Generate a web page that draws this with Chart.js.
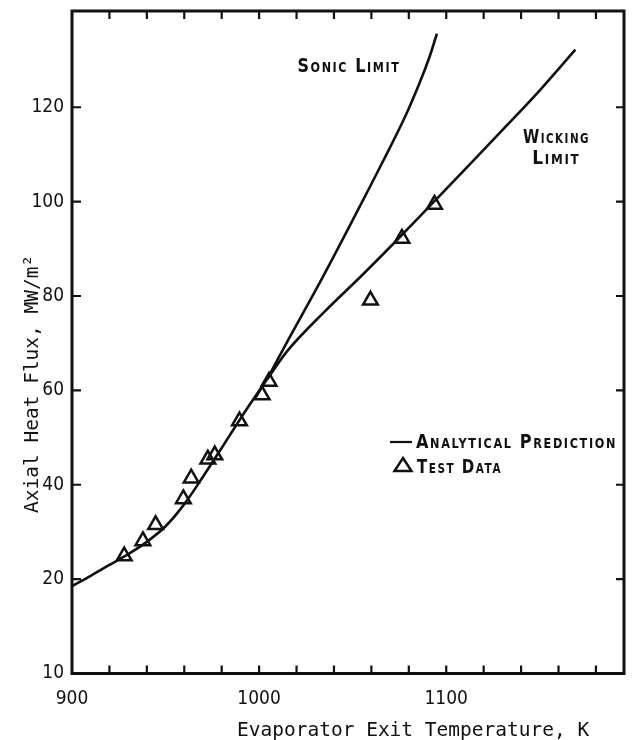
<!DOCTYPE html>
<html>
<head>
<meta charset="utf-8">
<script src="https://cdn.jsdelivr.net/npm/chart.js@4/dist/chart.umd.min.js"></script>
<style>
html,body{margin:0;padding:0;background:#fff;}
#wrap{width:635px;height:740px;position:relative;}
</style>
</head>
<body>
<div id="wrap"><canvas id="c" width="635" height="740"></canvas></div>
<script>
// ---- data ----
const xTickValues = [900, 1000, 1100];
const xTickLabels = ['900', '1000', '1100'];
const yTickValues = [0, 20, 40, 60, 80, 100, 120];
const yTickLabels = ['10', '20', '40', '60', '80', '100', '120'];

// shared part of the analytical prediction (below the split)
const sharedTemp = [900, 910, 920, 930, 940, 950, 960, 970, 980, 990, 1000, 1004];
const sharedFlux = [18.5, 20.7, 23.0, 25.3, 27.9, 31.2, 35.9, 41.7, 47.8, 54.0, 59.9, 62.2];

// sonic limit branch
const sonicTemp = [1004, 1016, 1034, 1052, 1066, 1078, 1086, 1091, 1095];
const sonicFlux = [62.2, 71.0, 84.0, 97.6, 108.4, 118.0, 125.4, 130.6, 135.6];

// wicking limit branch
const wickTemp = [1004, 1016, 1035, 1055, 1075, 1094, 1115, 1132, 1150, 1169];
const wickFlux = [62.2, 68.8, 76.7, 84.4, 92.4, 100.2, 108.9, 116.0, 123.6, 132.2];

// test data
const testTemp = [927.9, 937.9, 944.7, 959.5, 963.7, 972.6, 976.3, 989.5, 1001.6, 1005.3, 1059.5, 1076.3, 1093.7];
const testFlux = [24.9, 28.1, 31.5, 37.0, 41.4, 45.4, 46.3, 53.5, 59.0, 61.9, 79.1, 92.2, 99.4];

const labels = {
  sonic: 'Sonic Limit',
  wick1: 'Wicking',
  wick2: 'Limit',
  legLine: 'Analytical Prediction',
  legData: 'Test Data',
  xTitle: 'Evaporator Exit Temperature, K',
  yTitle: 'Axial Heat Flux, MW/m\u00B2'
};

const pts = (xs, ys) => xs.map((x, i) => ({x: x, y: ys[i]}));
const INK = '#111';
const TICK_FONT = '"DejaVu Sans Condensed", "Liberation Sans Narrow", "DejaVu Sans"';

function capsText(ctx, text, left, baseline, targetW) {
  ctx.save();
  ctx.font = 'small-caps bold 20px "DejaVu Sans"';
  try { ctx.letterSpacing = '2px'; } catch (e) {}
  const w = ctx.measureText(text).width;
  ctx.translate(left, baseline);
  ctx.scale(targetW / w, 1);
  ctx.fillStyle = INK;
  ctx.textAlign = 'left';
  ctx.textBaseline = 'alphabetic';
  ctx.fillText(text, 0, 0);
  ctx.restore();
}

const decor = {
  id: 'decor',
  afterDatasetsDraw(chart) {
    const ctx = chart.ctx;
    const a = chart.chartArea;
    const xs = chart.scales.x, ys = chart.scales.y;
    ctx.save();
    ctx.strokeStyle = INK;
    ctx.lineCap = 'butt';
    // frame
    ctx.lineWidth = 3;
    ctx.strokeRect(a.left, a.top, a.right - a.left, a.bottom - a.top);
    // x minor ticks (inward, top and bottom)
    ctx.lineWidth = 2.2;
    for (let v = xs.min + 20; v < xs.max; v += 20) {
      const px = xs.getPixelForValue(v);
      ctx.beginPath();
      ctx.moveTo(px, a.bottom); ctx.lineTo(px, a.bottom - 8);
      ctx.moveTo(px, a.top); ctx.lineTo(px, a.top + 8);
      ctx.stroke();
    }
    // y ticks (inward, left and right)
    yTickValues.forEach(v => {
      if (v === ys.min) return;
      const py = ys.getPixelForValue(v);
      ctx.beginPath();
      ctx.moveTo(a.left, py); ctx.lineTo(a.left + 9, py);
      ctx.moveTo(a.right, py); ctx.lineTo(a.right - 8, py);
      ctx.stroke();
    });
    // annotations
    capsText(ctx, labels.sonic, xs.getPixelForValue(1020.5), ys.getPixelForValue(127.4), 103);
    capsText(ctx, labels.wick1, xs.getPixelForValue(1141), ys.getPixelForValue(112.5), 67);
    capsText(ctx, labels.wick2, xs.getPixelForValue(1146), ys.getPixelForValue(108), 48);
    // legend
    const lx = 390, ly = 442;
    ctx.lineWidth = 2.2;
    ctx.beginPath(); ctx.moveTo(lx, ly); ctx.lineTo(lx + 22, ly); ctx.stroke();
    capsText(ctx, labels.legLine, 416, 448, 201);
    ctx.lineWidth = 2.5;
    ctx.lineJoin = 'miter';
    ctx.beginPath();
    ctx.moveTo(403, 458); ctx.lineTo(411.5, 471); ctx.lineTo(394.5, 471); ctx.closePath();
    ctx.stroke();
    capsText(ctx, labels.legData, 417, 473, 85);
    // axis titles
    ctx.fillStyle = INK;
    ctx.font = '19.5px "DejaVu Sans Mono"';
    ctx.textAlign = 'left';
    ctx.textBaseline = 'alphabetic';
    ctx.fillText(labels.xTitle, 237, 736);
    ctx.save();
    ctx.translate(38, 513);
    ctx.rotate(-Math.PI / 2);
    ctx.fillText(labels.yTitle, 0, 0);
    ctx.restore();
    ctx.restore();
  }
};

const lineDs = (data) => ({
  type: 'line', data: data, showLine: true, borderColor: INK, borderWidth: 2.6,
  pointRadius: 0, fill: false, tension: 0.35, order: 2
});

const noPad = s => { s.paddingLeft = 0; s.paddingRight = 0; s.paddingTop = 0; s.paddingBottom = 0; };

new Chart(document.getElementById('c'), {
  type: 'scatter',
  data: {
    datasets: [
      lineDs(pts(sharedTemp, sharedFlux)),
      lineDs(pts(sonicTemp, sonicFlux)),
      lineDs(pts(wickTemp, wickFlux)),
      {
        type: 'scatter', data: pts(testTemp, testFlux), pointStyle: 'triangle',
        pointRadius: 8.5, borderWidth: 2.5, borderColor: INK,
        backgroundColor: 'rgba(0,0,0,0)', order: 1
      }
    ]
  },
  options: {
    responsive: false,
    devicePixelRatio: 1,
    animation: false,
    events: [],
    layout: {padding: {top: 10, right: 1, left: 0, bottom: 0}},
    plugins: {legend: {display: false}, tooltip: {enabled: false}},
    scales: {
      x: {
        type: 'linear', min: 900, max: 1195,
        grid: {display: false, drawTicks: false}, border: {display: false},
        afterBuildTicks: s => { s.ticks = xTickValues.map(v => ({value: v})); },
        afterFit: s => { s.height = 66.5; noPad(s); },
        ticks: {
          autoSkip: false, maxRotation: 0, padding: 14, color: INK,
          font: {family: TICK_FONT, size: 19},
          callback: (v, i) => xTickLabels[i]
        }
      },
      y: {
        type: 'linear', min: 0, max: 140.4,
        grid: {display: false, drawTicks: false}, border: {display: false},
        afterBuildTicks: s => { s.ticks = yTickValues.map(v => ({value: v})); },
        afterFit: s => { s.width = 72; noPad(s); },
        ticks: {
          autoSkip: false, padding: 8, color: INK,
          font: {family: TICK_FONT, size: 19},
          callback: (v, i) => yTickLabels[i]
        }
      }
    }
  },
  plugins: [decor]
});
</script>
</body>
</html>
